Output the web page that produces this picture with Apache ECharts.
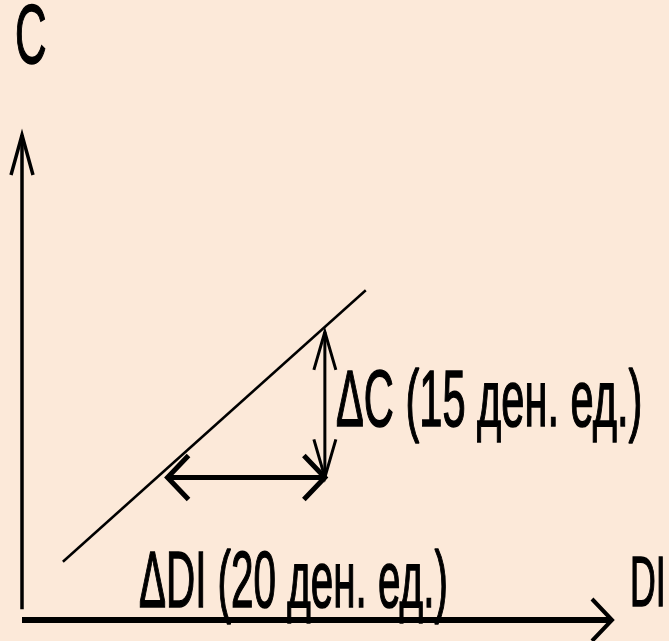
<!DOCTYPE html>
<html><head><meta charset="utf-8">
<script src="https://cdn.jsdelivr.net/npm/echarts@6/dist/echarts.min.js"></script>
<style>html,body{margin:0;padding:0;background:#FCE9D9}#c{width:669px;height:641px}</style>
</head><body><div id="c"></div>
<script>
// Data (DI on x, C on y, in money units)
const xRange = [0, 75];
const yRange = [0, 50];
const axisX = [[0, 0], [75, 0]];
const axisY = [[0, 1.1], [0, 50]];
const consLine = [[5.2, 6.0], [43.7, 34.0]];
const deltaDI = [[18.5, 14.7], [38.5, 14.7]];
const deltaC = [[38.5, 29.7], [38.5, 14.7]];
const labels = ['C', 'DI', 'ΔC (15 ден. ед.)', 'ΔDI (20 ден. ед.)'];

const chart = echarts.init(document.getElementById('c'));

function seg(name, pts, w, headStart, headEnd, back, side, headW) {
  return {
    type: 'custom', name: name, coordinateSystem: 'cartesian2d',
    data: [[pts[0][0], pts[0][1], pts[1][0], pts[1][1]]],
    silent: true, animation: false,
    renderItem: function (params, api) {
      const a = api.coord([api.value(0), api.value(1)]);
      const b = api.coord([api.value(2), api.value(3)]);
      const children = [{
        type: 'line', shape: {x1: a[0], y1: a[1], x2: b[0], y2: b[1]},
        style: {stroke: '#000', lineWidth: w, lineCap: 'butt'}
      }];
      function head(p, q) {
        const dx = p[0] - q[0], dy = p[1] - q[1];
        const L = Math.sqrt(dx * dx + dy * dy);
        const ux = dx / L, uy = dy / L, nx = -uy, ny = ux;
        children.push({
          type: 'polyline',
          shape: {points: [
            [p[0] - ux * back + nx * side, p[1] - uy * back + ny * side],
            [p[0], p[1]],
            [p[0] - ux * back - nx * side, p[1] - uy * back - ny * side]
          ]},
          style: {stroke: '#000', fill: null, lineWidth: headW, lineJoin: 'miter'}
        });
      }
      if (headStart) head(a, b);
      if (headEnd) head(b, a);
      return {type: 'group', children: children};
    }
  };
}

function txt(s, x, y, size, sx) {
  return {
    type: 'text', x: x, y: y, scaleX: sx, silent: true,
    style: {
      text: s, fill: '#000', stroke: '#000', lineWidth: 1.6,
      font: size + 'px "Liberation Sans", Arial, sans-serif',
      align: 'left', verticalAlign: 'middle',
      textAlign: 'left', textVerticalAlign: 'middle'
    }
  };
}

chart.setOption({
  backgroundColor: '#FCE9D9',
  animation: false,
  grid: {left: 22, right: 57, top: 135, bottom: 21},
  xAxis: {type: 'value', min: xRange[0], max: xRange[1], show: false},
  yAxis: {type: 'value', min: yRange[0], max: yRange[1], show: false},
  series: [
    seg('axisX', axisX, 6, false, true, 20, 21, 4),
    seg('axisY', axisY, 3.5, false, true, 40, 11, 3.5),
    seg('C(DI)', consLine, 2.5, false, false, 0, 0, 0),
    seg('ΔDI', deltaDI, 5, true, true, 21, 22, 5),
    seg('ΔC', deltaC, 3, true, true, 38, 11, 3)
  ],
  graphic: [
    txt(labels[0], 15, 40, 84, 0.52),
    txt(labels[1], 630, 587, 70, 0.51),
    txt(labels[2], 336, 404, 80, 0.52),
    txt(labels[3], 139, 585, 80, 0.505)
  ]
});
</script>
</body></html>
